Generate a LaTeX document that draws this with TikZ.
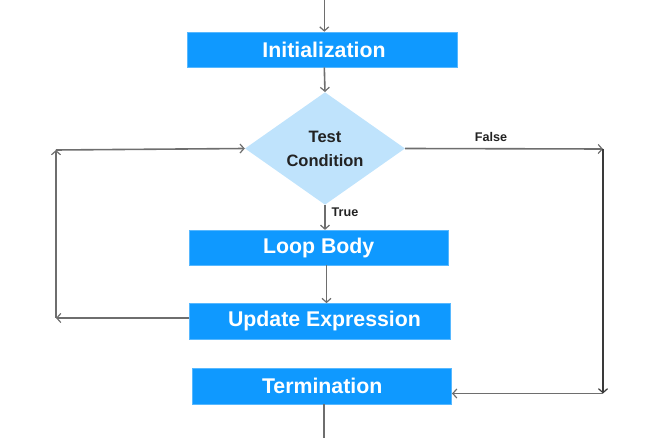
\documentclass[tikz,border=0pt]{standalone}
\usepackage{fontspec}
\setmainfont{Liberation Sans}
\usetikzlibrary{arrows.meta,shapes.geometric}
\definecolor{boxblue}{HTML}{0F99FF}
\definecolor{diablue}{HTML}{BFE3FC}
\definecolor{linegray}{HTML}{6E6E6E}
\definecolor{darkline}{HTML}{3A3A3A}
\definecolor{txtdark}{HTML}{222222}
\tikzset{
  stepbox/.style={rectangle, fill=boxblue, draw=boxblue!70!white, line width=0.6pt, inner sep=0pt, text=white,
    font=\fontsize{21.3}{24}\selectfont\bfseries},
  decision/.style={diamond, fill=diablue, inner sep=0pt, minimum width=160pt, minimum height=107pt,
    text=txtdark, align=center, font=\fontsize{16.5}{24}\selectfont\bfseries},
  arr/.style={draw=linegray, line width=1.6pt, -{Straight Barb[length=4pt,width=9pt,line width=1.2pt]}},
  lbl/.style={text=txtdark, font=\fontsize{12.6}{14}\selectfont\bfseries, inner sep=0pt}
}
\begin{document}
\begin{tikzpicture}[x=1pt,y=-1pt]
\useasboundingbox (0,0) rectangle (667,438);
\node[stepbox, minimum width=270pt, minimum height=35pt] (init) at (322,49.5) {\hspace*{4pt}Initialization};
\node[decision] (cond) at (325,148.5) {Test\\Condition};
\node[stepbox, minimum width=259pt, minimum height=35pt] (body) at (318.7,247.7) {Loop Body};
\node[stepbox, minimum width=261pt, minimum height=35.5pt] (upd) at (320,321.2) {\hspace*{9pt}Update Expression};
\node[stepbox, minimum width=259pt, minimum height=35.5pt] (term) at (322.2,386.3) {Termination};
\coordinate (top) at (324.3,0);
\coordinate (bot) at (324,438);
\coordinate (lb) at (56,318);
\coordinate (lt) at (56,150);
\coordinate (rt) at (603,149);
\coordinate (rb) at (603,393.5);
\node[lbl, anchor=west] (truelbl) at (331.5,212) {True};
\node[lbl] (falselbl) at (491,136.5) {False};
% main flow
\draw[arr] (top) -- (top |- init.north);
\draw[arr] (top |- init.south) -- (cond.north);
\draw[arr] (cond.south) -- (cond.south |- body.north);
\draw[arr] ([xshift=1.5pt]cond.south |- body.south) -- ([xshift=1.5pt]cond.south |- upd.north);
\draw[draw=linegray, line width=1.6pt] (bot |- term.south) -- (bot);
% loop back
\draw[arr] (upd.west |- lb) -- (lb);
\draw[arr] (lb) -- (lt);
\draw[arr] (lt) -- (cond.west);
% false branch
\draw[arr] (cond.east) -- (rt);
\draw[arr, draw=darkline] (rt) -- (rb);
\draw[arr] (rb) -- (term.east |- rb);
\end{tikzpicture}
\end{document}
